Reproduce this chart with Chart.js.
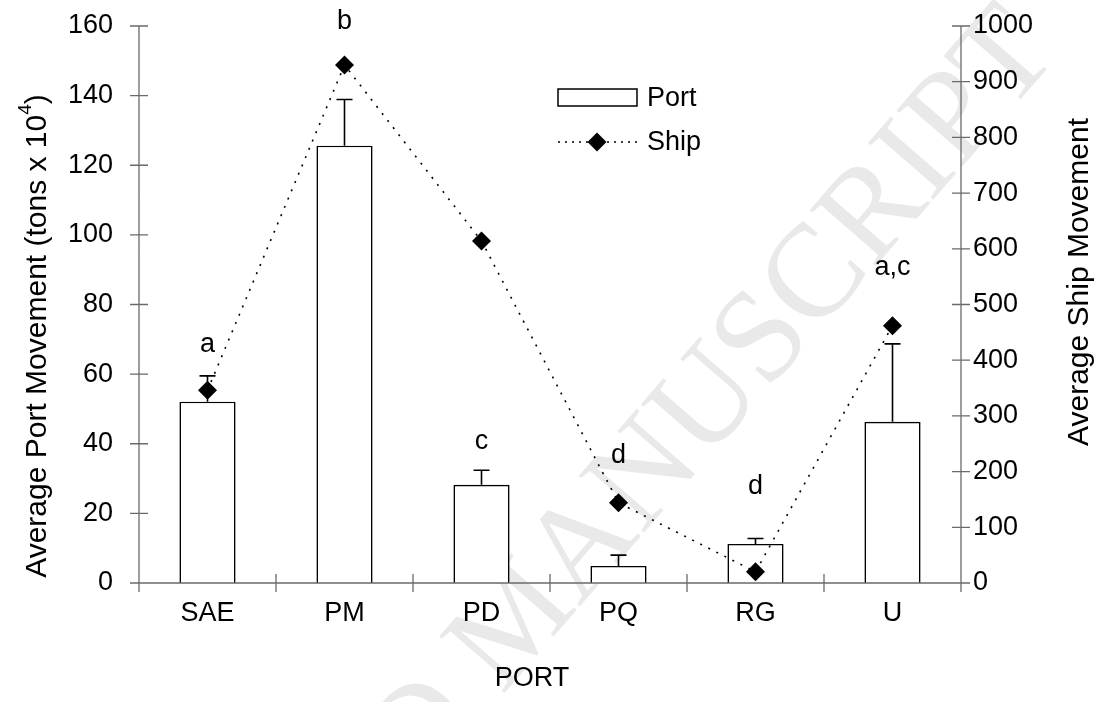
<!DOCTYPE html>
<html>
<head>
<meta charset="utf-8">
<script src="https://cdn.jsdelivr.net/npm/chart.js@4.4.1/dist/chart.umd.min.js"></script>
<style>
  html, body { margin: 0; padding: 0; background: #fff; }
  #wrap { width: 1104px; height: 702px; }
</style>
</head>
<body>
<div id="wrap"><canvas id="chart" width="1104" height="702"></canvas></div>
<script>
// Ports along the coast
const ports = ['SAE', 'PM', 'PD', 'PQ', 'RG', 'U'];
// Average port movement (tons x 10^4) and its upper error
const portMovement = [52.1, 125.6, 28.2, 4.9, 11.2, 46.3];
const portError = [7.4, 13.3, 4.2, 3.1, 1.6, 22.4];
// Average ship movement
const shipMovement = [346, 930, 614, 144, 20, 462];
// Significance groups
const groupLetters = ['a', 'b', 'c', 'd', 'd', 'a,c'];
// Axis ticks
const portTicks = [0, 20, 40, 60, 80, 100, 120, 140, 160];
const shipTicks = [0, 100, 200, 300, 400, 500, 600, 700, 800, 900, 1000];

const FONT = '"Liberation Sans", Arial, Helvetica, sans-serif';
const FS = 27;
const TITLE_FS = 30;
const AXIS_COLOR = '#6a6a6a';

// Faint diagonal watermark behind the plot
const watermark = {
  id: 'watermark',
  beforeDraw(chart) {
    const ctx = chart.ctx;
    ctx.save();
    ctx.fillStyle = '#fff';
    ctx.fillRect(0, 0, chart.width, chart.height);
    ctx.translate(755, 352);
    ctx.rotate(-49 * Math.PI / 180);
    ctx.font = '132px "Liberation Serif", "Times New Roman", serif';
    ctx.fillStyle = '#e9e9e9';
    ctx.textBaseline = 'middle';
    ctx.textAlign = 'left';
    const w1 = ctx.measureText('ACCEPTED ').width;
    const w2 = ctx.measureText('MANUSCRIPT').width;
    ctx.fillText('ACCEPTED MANUSCRIPT', -w2 / 2 - w1, 0);
    ctx.restore();
  }
};

// Upper error whiskers on the bars
const errorBars = {
  id: 'errorBars',
  afterDatasetDraw(chart, args) {
    if (chart.data.datasets[args.index].type !== 'bar') return;
    const ctx = chart.ctx;
    const y = chart.scales.yPort;
    const meta = args.meta;
    ctx.save();
    ctx.strokeStyle = '#000';
    ctx.lineWidth = 1.6;
    meta.data.forEach((bar, i) => {
      const top = y.getPixelForValue(portMovement[i] + portError[i]);
      const base = y.getPixelForValue(portMovement[i]);
      ctx.beginPath();
      ctx.moveTo(bar.x, base);
      ctx.lineTo(bar.x, top);
      ctx.moveTo(bar.x - 8, top);
      ctx.lineTo(bar.x + 8, top);
      ctx.stroke();
    });
    ctx.restore();
  }
};

// Axis frame, crossing tick marks, titles, letters and legend
const decorations = {
  id: 'decorations',
  afterDraw(chart, args, opts) {
    const ctx = chart.ctx;
    const a = chart.chartArea;
    const x = chart.scales.x;
    const yl = chart.scales.yPort;
    const yr = chart.scales.yShip;
    ctx.save();
    ctx.strokeStyle = AXIS_COLOR;
    ctx.lineWidth = 1.3;
    ctx.beginPath();
    // axis lines
    ctx.moveTo(a.left, a.top); ctx.lineTo(a.left, a.bottom + 9);
    ctx.moveTo(a.right, a.top); ctx.lineTo(a.right, a.bottom + 9);
    ctx.moveTo(a.left, a.bottom); ctx.lineTo(a.right, a.bottom);
    // tick marks
    yl.ticks.forEach(t => {
      const p = yl.getPixelForValue(t.value);
      ctx.moveTo(a.left - 9, p); ctx.lineTo(a.left + 9, p);
    });
    yr.ticks.forEach(t => {
      const p = yr.getPixelForValue(t.value);
      ctx.moveTo(a.right - 9, p); ctx.lineTo(a.right + 9, p);
    });
    const n = ports.length;
    for (let i = 0; i <= n; i++) {
      const p = a.left + i * (a.right - a.left) / n;
      ctx.moveTo(p, a.bottom - 9); ctx.lineTo(p, a.bottom + 9);
    }
    ctx.stroke();

    ctx.fillStyle = '#000';
    ctx.font = FS + 'px ' + FONT;
    ctx.textBaseline = 'middle';

    // group letters
    ctx.textAlign = 'center';
    groupLetters.forEach((txt, i) => {
      ctx.fillText(txt, x.getPixelForValue(i), yl.getPixelForValue(opts.levels[i]));
    });

    // x title
    ctx.fillText('PORT', 532, 679);

    // left title with superscript
    ctx.save();
    ctx.translate(38, 336);
    ctx.rotate(-Math.PI / 2);
    const main = 'Average Port Movement (tons x 10';
    const bigFont = TITLE_FS + 'px ' + FONT;
    const supFont = '19px ' + FONT;
    ctx.font = bigFont;
    const wMain = ctx.measureText(main).width;
    const wClose = ctx.measureText(')').width;
    ctx.font = supFont;
    const wSup = ctx.measureText('4').width;
    const total = wMain + wSup + wClose;
    let sx = -total / 2;
    ctx.textAlign = 'left';
    ctx.font = bigFont;
    ctx.fillText(main, sx, 0);
    sx += wMain;
    ctx.font = supFont;
    ctx.fillText('4', sx, -12);
    sx += wSup;
    ctx.font = bigFont;
    ctx.fillText(')', sx, 0);
    ctx.restore();

    // right title
    ctx.save();
    ctx.translate(1080, 282);
    ctx.rotate(-Math.PI / 2);
    ctx.textAlign = 'center';
    ctx.font = TITLE_FS + 'px ' + FONT;
    ctx.fillText('Average Ship Movement', 0, 0);
    ctx.restore();

    // legend
    const bar = chart.data.datasets[1];
    const line = chart.data.datasets[0];
    ctx.fillStyle = '#fff';
    ctx.strokeStyle = '#000';
    ctx.lineWidth = 1.5;
    ctx.fillRect(558, 89, 79, 17);
    ctx.strokeRect(558, 89, 79, 17);
    ctx.beginPath();
    ctx.setLineDash([2, 5]);
    ctx.moveTo(558, 142); ctx.lineTo(637, 142);
    ctx.stroke();
    ctx.setLineDash([]);
    ctx.fillStyle = '#000';
    ctx.beginPath();
    ctx.moveTo(597 - 9.5, 142); ctx.lineTo(597, 142 - 9.5);
    ctx.lineTo(597 + 9.5, 142); ctx.lineTo(597, 142 + 9.5);
    ctx.closePath();
    ctx.fill();
    ctx.textAlign = 'left';
    ctx.font = FS + 'px ' + FONT;
    ctx.fillText(bar.label, 647, 99);
    ctx.fillText(line.label, 647, 143);
    ctx.restore();
  }
};

const tickFont = { family: FONT, size: FS };
const plainLabel = v => String(v);

new Chart(document.getElementById('chart'), {
  data: {
    labels: ports,
    datasets: [
      {
        type: 'line',
        label: 'Ship',
        data: shipMovement,
        yAxisID: 'yShip',
        borderColor: '#000',
        borderWidth: 1.6,
        borderDash: [2, 7],
        tension: 0,
        fill: false,
        pointStyle: 'rectRot',
        pointRadius: 9.5,
        pointBackgroundColor: '#000',
        pointBorderColor: '#000',
        pointBorderWidth: 0,
        order: 0
      },
      {
        type: 'bar',
        label: 'Port',
        data: portMovement,
        yAxisID: 'yPort',
        backgroundColor: '#fff',
        borderColor: '#000',
        borderWidth: 1.6,
        barPercentage: 0.41,
        categoryPercentage: 1,
        order: 1
      }
    ]
  },
  options: {
    responsive: false,
    animation: false,
    devicePixelRatio: 1,
    layout: { padding: { top: 26, left: 0, right: 0, bottom: 0 } },
    plugins: {
      legend: { display: false },
      tooltip: { enabled: false },
      decorations: { levels: [68.4, 161.2, 40.5, 36.5, 27.6, 90.5] }
    },
    scales: {
      x: {
        type: 'category',
        grid: { display: false, drawTicks: false },
        border: { display: false },
        ticks: { color: '#000', font: tickFont, padding: 14, maxRotation: 0 },
        afterFit(s) { s.height = 119; s.paddingLeft = 0; s.paddingRight = 0; }
      },
      yPort: {
        type: 'linear',
        position: 'left',
        min: 0,
        max: 160,
        grid: { display: false, drawTicks: false },
        border: { display: false },
        afterBuildTicks(s) { s.ticks = portTicks.map(v => ({ value: v })); },
        ticks: { color: '#000', font: tickFont, padding: 26, callback: plainLabel },
        afterFit(s) { s.width = 139; s.paddingTop = 0; s.paddingBottom = 0; }
      },
      yShip: {
        type: 'linear',
        position: 'right',
        min: 0,
        max: 1000,
        grid: { display: false, drawTicks: false },
        border: { display: false },
        afterBuildTicks(s) { s.ticks = shipTicks.map(v => ({ value: v })); },
        ticks: { color: '#000', font: tickFont, padding: 12, callback: plainLabel },
        afterFit(s) { s.width = 143; s.paddingTop = 0; s.paddingBottom = 0; }
      }
    }
  },
  plugins: [watermark, errorBars, decorations]
});
</script>
</body>
</html>
